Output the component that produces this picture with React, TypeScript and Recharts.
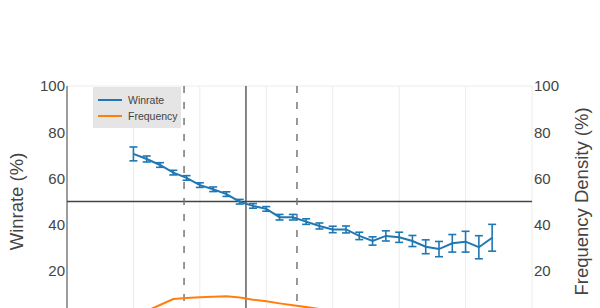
import React from 'react';
import {
  ComposedChart,
  Line,
  XAxis,
  YAxis,
  CartesianGrid,
  ReferenceLine,
  ErrorBar,
  Legend,
  Label,
} from 'recharts';

// Bin positions along the horizontal axis
const binPositions = [
  5, 6, 7, 8, 9, 10, 11, 12, 13, 14, 15, 16, 17, 18, 19, 20, 21, 22, 23, 24, 25, 26, 27, 28, 29, 30,
  31, 32,
];

// Winrate per bin (%) and its error (±%)
const winrate = [
  70.6, 68.4, 65.8, 62.5, 60.2, 57.1, 55.3, 53.2, 49.9, 48.1, 46.8, 43.2, 43.2, 41.3, 39.4, 37.9,
  37.9, 35.1, 32.9, 35.1, 34.5, 32.9, 30.4, 29.4, 31.9, 32.6, 30.2, 34.3,
];
const winrateError = [
  3.0, 1.3, 1.0, 1.0, 1.0, 1.0, 1.0, 1.0, 1.0, 1.0, 1.0, 1.2, 1.2, 1.2, 1.3, 1.4, 1.5, 1.6, 1.8,
  2.2, 2.2, 2.4, 3.0, 3.3, 3.8, 4.5, 5.0, 5.8,
];

// Frequency density per bin (%)
const frequency = [
  0.5, 2.6, 5.2, 7.8, 8.2, 8.5, 8.8, 9.0, 8.4, 7.5, 6.8, 5.9, 5.1, 4.3, 3.5, 2.8, 2.2, 1.7, 1.3,
  1.0, 0.8, 0.6, 0.5, 0.4, 0.3, 0.2, 0.15, 0.1,
];

const xTicks = [0, 5, 10, 15, 20, 25, 30, 35];
const yTicks = [0, 20, 40, 60, 80, 100];

// Marker lines on the horizontal axis
const centerMark = 13.47;
const lowerMark = 8.81;
const upperMark = 17.31;

const rows = binPositions.map((x, i) => ({
  x,
  winrate: winrate[i],
  winrateError: winrateError[i],
  frequency: frequency[i],
}));

const FONT = '"Liberation Sans", Arial, sans-serif';
const BLUE = '#1f77b4';
const ORANGE = '#ff7f0e';
const TEXT = '#444';

const legendItems = [
  { name: 'Winrate', color: BLUE },
  { name: 'Frequency', color: ORANGE },
];

const LegendBox = () => (
  <div
    style={{
      background: '#e5e5e5',
      width: 88,
      height: 41,
      boxSizing: 'border-box',
      paddingTop: 5,
      paddingLeft: 5,
      fontFamily: FONT,
      fontSize: 10.5,
      color: TEXT,
    }}
  >
    {legendItems.map((item) => (
      <div key={item.name} style={{ display: 'flex', alignItems: 'center', height: 16 }}>
        <div style={{ width: 24, height: 2, background: item.color, marginRight: 6 }} />
        <span>{item.name}</span>
      </div>
    ))}
  </div>
);

export default function App() {
  return (
    <div
      style={{
        position: 'fixed',
        left: 0,
        top: 0,
        width: 600,
        height: 308,
        overflow: 'hidden',
        background: '#fff',
      }}
    >
      <ComposedChart
        width={600}
        height={362}
        data={rows}
        margin={{ top: 86, right: 0, bottom: 5, left: 0 }}
        style={{ fontFamily: FONT }}
      >
        <CartesianGrid stroke="#ececec" strokeWidth={1} />
        <XAxis
          dataKey="x"
          type="number"
          domain={[0, 35]}
          ticks={xTicks}
          axisLine={false}
          tickLine={false}
          height={40}
          tickMargin={14}
          tick={{ fill: TEXT, fontSize: 15 }}
        />
        <YAxis
          yAxisId="wr"
          domain={[0, 100]}
          ticks={yTicks}
          width={67}
          axisLine={{ stroke: TEXT, strokeWidth: 1 }}
          tickLine={false}
          tickSize={0}
          tickMargin={2}
          tick={{ fill: TEXT, fontSize: 15 }}
        >
          <Label
            value="Winrate (%)"
            angle={-90}
            position="center"
            dx={-17}
            style={{ fill: TEXT, fontSize: 18.5, textAnchor: 'middle' }}
          />
        </YAxis>
        <YAxis
          yAxisId="freq"
          orientation="right"
          domain={[0, 100]}
          ticks={yTicks}
          width={68}
          axisLine={false}
          tickLine={false}
          tickSize={0}
          tickMargin={2}
          tick={{ fill: TEXT, fontSize: 15 }}
        >
          <Label
            value="Frequency Density (%)"
            angle={-90}
            position="center"
            dx={15}
            style={{ fill: TEXT, fontSize: 18.5, textAnchor: 'middle' }}
          />
        </YAxis>
        <ReferenceLine yAxisId="wr" y={50} stroke={TEXT} strokeWidth={1.3} />
        <ReferenceLine yAxisId="wr" x={centerMark} stroke={TEXT} strokeWidth={1.3} />
        <ReferenceLine
          yAxisId="wr"
          x={lowerMark}
          stroke="#777"
          strokeWidth={1.5}
          strokeDasharray="7 9"
        />
        <ReferenceLine
          yAxisId="wr"
          x={upperMark}
          stroke="#777"
          strokeWidth={1.5}
          strokeDasharray="7 9"
        />
        <Line
          yAxisId="freq"
          dataKey="frequency"
          stroke={ORANGE}
          strokeWidth={2}
          dot={false}
          isAnimationActive={false}
        />
        <Line
          yAxisId="wr"
          dataKey="winrate"
          stroke={BLUE}
          strokeWidth={2}
          dot={false}
          isAnimationActive={false}
        >
          <ErrorBar
            dataKey="winrateError"
            direction="y"
            width={4}
            stroke={BLUE}
            strokeWidth={1.6}
            isAnimationActive={false}
          />
        </Line>
        <Legend
          layout="vertical"
          align="center"
          verticalAlign="middle"
          content={() => <LegendBox />}
          wrapperStyle={{ left: 93, top: 87, width: 88, height: 41 }}
        />
      </ComposedChart>
    </div>
  );
}
